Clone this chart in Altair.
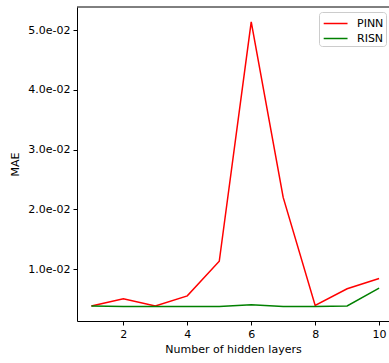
import altair as alt
import pandas as pd

layers = [1, 2, 3, 4, 5, 6, 7, 8, 9, 10]
pinn = [0.0038, 0.0050, 0.0038, 0.0055, 0.0113, 0.0514, 0.0220, 0.0039, 0.0067, 0.0084]
risn = [0.0038, 0.0037, 0.0037, 0.0037, 0.0037, 0.0040, 0.0037, 0.0037, 0.0038, 0.0068]
series = ["PINN", "RISN"]
colors = ["#ff0000", "#008000"]
y_ticks = [0.01, 0.02, 0.03, 0.04, 0.05]
x_ticks = [2, 4, 6, 8, 10]

rows = []
for i, x in enumerate(layers):
    rows.append({"layers": x, "MAE": pinn[i], "model": series[0]})
    rows.append({"layers": x, "MAE": risn[i], "model": series[1]})
df = pd.DataFrame(rows)

FONT = "DejaVu Sans"

lines = alt.Chart(df).mark_line(strokeWidth=1.5, clip=True).encode(
    x=alt.X("layers:Q",
            scale=alt.Scale(domain=[0.55, 10.31], nice=False, zero=False),
            axis=alt.Axis(values=x_ticks, title="Number of hidden layers",
                          grid=False, tickSize=4, labelPadding=3,
                          titlePadding=4, labelFlush=False)),
    y=alt.Y("MAE:Q",
            scale=alt.Scale(domain=[0.00129, 0.0539], nice=False, zero=False),
            axis=alt.Axis(values=y_ticks, title="MAE", grid=False, tickSize=4,
                          labelPadding=3, titlePadding=7,
                          labelExpr="replace(format(datum.value, '.1e'), 'e-', 'e-0')")),
    color=alt.Color("model:N",
                    scale=alt.Scale(domain=series, range=colors),
                    legend=alt.Legend(title=None, orient="none", legendX=242, legendY=5,
                                      symbolType="M-0.8,0H2.0", symbolStrokeWidth=1.5,
                                      symbolFillColor="transparent",
                                      symbolSize=290, strokeColor="#cccccc",
                                      cornerRadius=3, padding=2, fillColor="white",
                                      labelFontSize=11, rowPadding=0, labelOffset=17,
                                      labelFont=FONT)),
)

top = alt.Chart(pd.DataFrame({"a": [0]})).mark_rule(color="black", strokeWidth=1).encode(
    x=alt.value(0), x2=alt.value(320), y=alt.value(0)
)

chart = alt.layer(lines, top).properties(
    width=312, height=314,
    padding={"left": 77, "top": 7, "right": 0, "bottom": 42},
    autosize=alt.AutoSizeParams(type="none"),
).configure_view(stroke=None).configure_axis(
    domainColor="black", tickColor="black", labelColor="black", titleColor="black",
    labelFont=FONT, titleFont=FONT, labelFontSize=11, titleFontSize=11,
    titleFontWeight="normal", domainWidth=1,
)

chart.save("out.html", embed_options={"renderer": "svg", "actions": False})
